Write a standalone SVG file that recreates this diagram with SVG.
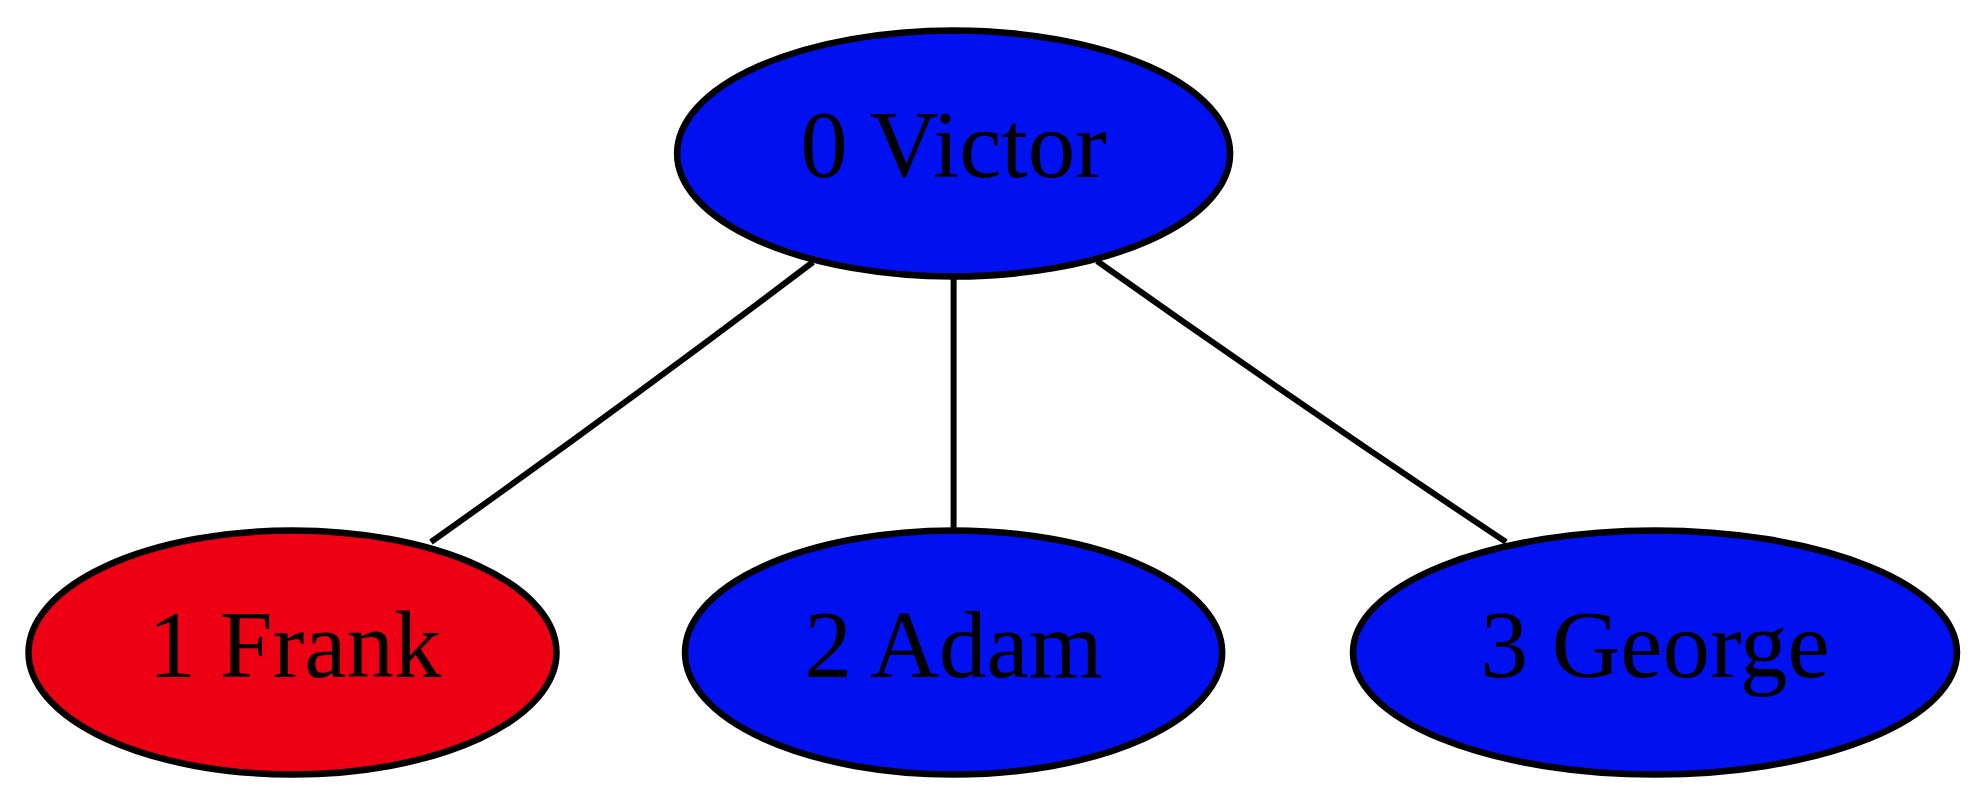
<svg xmlns="http://www.w3.org/2000/svg" width="1985" height="806" viewBox="0 0 1985 806">
<style>
.node ellipse{stroke:#000;stroke-width:6.5}
.blue{fill:#0010ee}
.red{fill:#ee0014}
.node text{font-family:"Liberation Serif","Times New Roman",serif;font-size:95px;fill:#000;text-anchor:middle}
.edges path{stroke:#000;stroke-width:6;fill:none}
</style>
<rect width="1985" height="806" fill="#fff"/>
<g class="edges" id="edges">
<path d="M813,262 Q620,408 431,542"/>
<path d="M953.6,277 L953.6,531"/>
<path d="M1097,261 Q1300,405 1506,542"/>
</g>
<g class="node" id="node0">
<ellipse class="blue" cx="953.6" cy="153.5" rx="276.5" ry="123"/>
<text x="953.6" y="177">0 Victor</text>
</g>
<g class="node" id="node1">
<ellipse class="red" cx="292.5" cy="652.5" rx="264" ry="122"/>
<text x="295" y="677">1 Frank</text>
</g>
<g class="node" id="node2">
<ellipse class="blue" cx="953.6" cy="652.5" rx="268.6" ry="122"/>
<text x="953.6" y="677">2 Adam</text>
</g>
<g class="node" id="node3">
<ellipse class="blue" cx="1655" cy="652.5" rx="302" ry="122"/>
<text x="1655" y="677">3 George</text>
</g>
</svg>
